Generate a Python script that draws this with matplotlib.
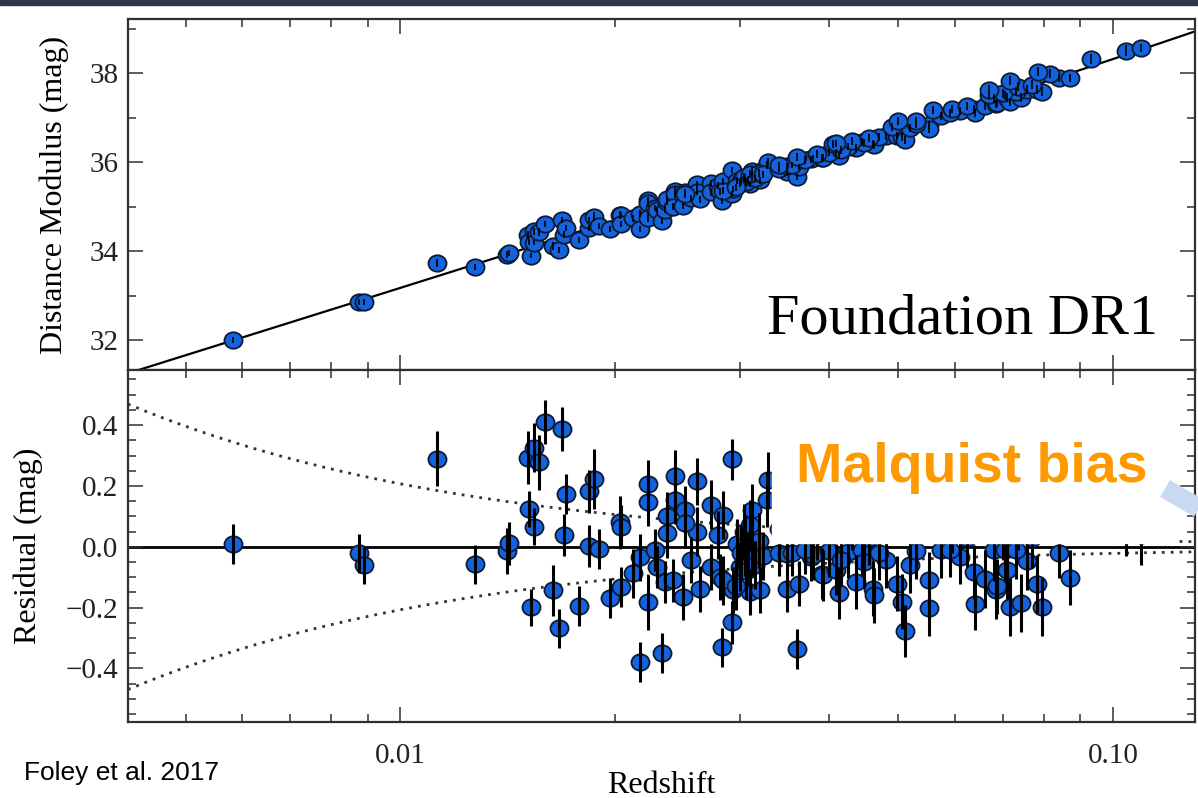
import numpy as np
import matplotlib.pyplot as plt
from matplotlib.patches import Rectangle
from matplotlib.lines import Line2D
from matplotlib.path import Path
from matplotlib.ticker import FixedLocator, NullFormatter, FuncFormatter

plt.rcParams['font.family'] = ['Liberation Serif', 'DejaVu Serif']
plt.rcParams['mathtext.fontset'] = 'stix'

# Foundation DR1 Hubble residuals: redshift, residual (mag), 1-sigma error (mag)
redshift = [
    0.00582, 0.00876, 0.00891, 0.01126, 0.01274, 0.01413, 0.01422, 0.01512,
    0.01515, 0.01527, 0.01541, 0.01543, 0.01566, 0.01597, 0.01639, 0.01671,
    0.01687, 0.01698, 0.01709, 0.01783, 0.01842, 0.01842, 0.01871, 0.01901,
    0.01971, 0.02035, 0.02040, 0.02042, 0.02121, 0.02171, 0.02171, 0.02229,
    0.02229, 0.02229, 0.02280, 0.02293, 0.02330, 0.02350, 0.02370, 0.02370,
    0.02430, 0.02430, 0.02417, 0.02496, 0.02513, 0.02555, 0.02612, 0.02612,
    0.02638, 0.02733, 0.02733, 0.02794, 0.02812, 0.02825, 0.02840, 0.02923,
    0.02923, 0.02932, 0.03115, 0.03095, 0.03196, 0.03268, 0.03280, 0.03486,
    0.03602, 0.03630, 0.02970, 0.03010, 0.03050, 0.03080, 0.03120, 0.03000,
    0.03060, 0.03150, 0.03190, 0.03040, 0.03100, 0.03230, 0.03400, 0.03490,
    0.03544, 0.02840, 0.02960, 0.02513, 0.03770, 0.03794, 0.03911, 0.03924,
    0.04082, 0.04123, 0.04357, 0.04600, 0.04615, 0.04799, 0.04970, 0.05051,
    0.05100, 0.05195, 0.05512, 0.05512, 0.05733, 0.06107, 0.06385, 0.06400,
    0.06616, 0.06815, 0.06855, 0.06880, 0.07061, 0.07107, 0.07176, 0.07435,
    0.07578, 0.07824, 0.07950, 0.08400, 0.08705, 0.03700, 0.04000, 0.04250,
    0.04450, 0.04700, 0.05300, 0.05900, 0.07300, 0.04150, 0.04480, 0.03400,
    0.03600, 0.03850, 0.04050, 0.04300, 0.04550, 0.04900, 0.05300, 0.05600,
    0.05950, 0.06250, 0.06700, 0.07000, 0.07350, 0.07700, 0.08150, 0.09310,
    0.10430, 0.10940, 0.07850, 0.06690, 0.07180, 0.04990, 0.04090,
]
residual = [
    0.010, -0.022, -0.061, 0.290, -0.058, -0.013, 0.011, 0.293,
    0.124, -0.199, 0.326, 0.066, 0.278, 0.409, -0.143, -0.268,
    0.386, 0.039, 0.174, -0.194, 0.003, 0.182, 0.223, -0.008,
    -0.168, 0.080, 0.066, -0.132, -0.087, -0.035, -0.378, 0.208,
    0.148, -0.182, -0.011, -0.066, -0.348, -0.116, 0.044, 0.100,
    0.232, 0.155, -0.110, -0.166, 0.121, -0.044, 0.215, 0.050,
    -0.138, 0.138, -0.066, 0.039, -0.100, -0.331, 0.105, 0.287,
    -0.248, -0.143, 0.121, -0.149, -0.143, 0.155, 0.220, -0.138,
    -0.336, -0.121, 0.010, -0.020, 0.005, -0.040, -0.010, -0.065,
    -0.080, -0.060, 0.020, 0.050, 0.070, -0.030, -0.020, -0.025,
    -0.022, -0.110, -0.128, 0.077, -0.033, -0.028, -0.088, -0.094,
    -0.075, -0.152, -0.116, -0.138, -0.160, -0.044, -0.121, -0.180,
    -0.276, -0.061, -0.108, -0.202, -0.011, -0.033, -0.083, -0.188,
    -0.105, -0.011, -0.143, -0.130, -0.011, -0.077, -0.199, -0.184,
    -0.046, -0.121, -0.199, -0.022, -0.101, -0.010, -0.015, -0.018,
    -0.012, -0.020, -0.015, -0.010, -0.012, -0.045, -0.050, 0.060,
    0.120, 0.040, 0.150, 0.080, 0.030, 0.110, 0.050, 0.180,
    0.070, 0.030, 0.120, 0.050, 0.090, 0.030, 0.140, 0.160,
    0.090, 0.040, 0.280, 0.240, 0.280, 0.200, 0.140,
]
residual_err = [
    0.066, 0.065, 0.060, 0.090, 0.064, 0.075, 0.070, 0.088,
    0.060, 0.060, 0.080, 0.060, 0.090, 0.072, 0.083, 0.064,
    0.072, 0.069, 0.066, 0.066, 0.069, 0.070, 0.100, 0.066,
    0.066, 0.088, 0.070, 0.066, 0.080, 0.077, 0.066, 0.077,
    0.080, 0.090, 0.070, 0.070, 0.066, 0.070, 0.080, 0.080,
    0.085, 0.080, 0.070, 0.075, 0.080, 0.075, 0.077, 0.080,
    0.075, 0.080, 0.075, 0.080, 0.075, 0.063, 0.080, 0.066,
    0.070, 0.075, 0.085, 0.075, 0.075, 0.090, 0.090, 0.075,
    0.065, 0.075, 0.080, 0.090, 0.100, 0.090, 0.085, 0.080,
    0.090, 0.080, 0.090, 0.090, 0.085, 0.080, 0.075, 0.075,
    0.075, 0.080, 0.080, 0.080, 0.080, 0.080, 0.085, 0.085,
    0.085, 0.085, 0.090, 0.090, 0.090, 0.090, 0.090, 0.090,
    0.085, 0.090, 0.090, 0.090, 0.090, 0.090, 0.090, 0.085,
    0.095, 0.100, 0.095, 0.090, 0.100, 0.095, 0.095, 0.095,
    0.095, 0.095, 0.095, 0.080, 0.090, 0.080, 0.085, 0.085,
    0.085, 0.090, 0.090, 0.090, 0.095, 0.085, 0.085, 0.085,
    0.090, 0.085, 0.090, 0.090, 0.090, 0.090, 0.090, 0.095,
    0.090, 0.095, 0.095, 0.095, 0.100, 0.100, 0.100, 0.110,
    0.120, 0.100, 0.100, 0.095, 0.100, 0.090, 0.085,
]

z = np.array(redshift)
res = np.array(residual)
err = np.array(residual_err)

# cosmology used for the reference Hubble line
H0 = 70.0
q0 = -0.55
c_kms = 299792.458
v_pec = 300.0   # peculiar velocity for the dotted envelope


def mu_model(zz):
    dl = c_kms * zz / H0 * (1 + 0.5 * (1 - q0) * zz)
    return 5 * np.log10(dl) + 25


mu = mu_model(z) + res

zlo, zhi = 0.00415, 0.1303
zline = np.geomspace(zlo, zhi, 400)
env = 5 * np.log10(1 + v_pec / (c_kms * zline))

minor_z = [0.005, 0.006, 0.007, 0.008, 0.009,
           0.02, 0.03, 0.04, 0.05, 0.06, 0.07, 0.08, 0.09]

# slightly wide oval symbol
circ = Path.unit_circle()
oval = Path(circ.vertices * [1.1, 1.0], circ.codes)

face = '#1462dc'
edge = '#0c1a33'
spine_c = '#303030'
mkw = dict(ls='none', marker=oval, ms=13, mfc=face, mec=edge, mew=1.3, zorder=2)

fig = plt.figure(figsize=(11.98, 7.98), dpi=100)
ax1 = fig.add_axes([0.1068, 0.5363, 0.8906, 0.4398])
ax2 = fig.add_axes([0.1068, 0.0952, 0.8906, 0.4411], sharex=ax1)

# top: distance modulus
ax1.plot(zline, mu_model(zline), color='black', lw=1.6, zorder=1)
ax1.plot(z, mu, **mkw)
ax1.errorbar(z, mu, yerr=err, fmt='none', ecolor='black', elinewidth=1.2,
             capsize=0, zorder=3)
ax1.set_ylim(31.33, 39.22)
ax1.yaxis.set_major_locator(FixedLocator([32, 34, 36, 38]))
ax1.yaxis.set_minor_locator(FixedLocator([31, 33, 35, 37, 39]))
ax1.set_ylabel('Distance Modulus (mag)', fontsize=23)
ax1.yaxis.set_label_coords(-0.055, 0.5)
ax1.text(0.965, 0.105, 'Foundation DR1', transform=ax1.transAxes,
         fontsize=42, ha='right', va='baseline')

# bottom: residuals
ax2.axhline(0, color='black', lw=2.0, zorder=1)
ax2.plot(zline, env, color='#333333', lw=2.0, ls=(0, (1, 2.2)), zorder=1)
ax2.plot(zline, -env, color='#333333', lw=2.0, ls=(0, (1, 2.2)), zorder=1)
ax2.plot(z, res, **mkw)
ax2.errorbar(z, res, yerr=err, fmt='none', ecolor='black', elinewidth=2.2,
             capsize=0, zorder=3)
ax2.set_ylim(-0.576, 0.581)
ax2.yaxis.set_major_locator(FixedLocator([-0.4, -0.2, 0.0, 0.2, 0.4]))
ax2.yaxis.set_minor_locator(FixedLocator(np.arange(-0.55, 0.56, 0.05)))
ax2.yaxis.set_major_formatter(FuncFormatter(lambda v, p: f'{v:.1f}'.replace('-', '\u2212')))
ax2.set_ylabel('Residual (mag)', fontsize=23)
ax2.yaxis.set_label_coords(-0.080, 0.5)
ax2.set_xlabel('Redshift', fontsize=23)
ax2.xaxis.set_label_coords(0.5, -0.14)

for ax in (ax1, ax2):
    ax.set_xscale('log')
    ax.set_xlim(zlo, zhi)
    ax.xaxis.set_major_locator(FixedLocator([0.01, 0.1]))
    ax.xaxis.set_minor_locator(FixedLocator(minor_z))
    ax.xaxis.set_minor_formatter(NullFormatter())
    ax.xaxis.set_major_formatter(FuncFormatter(lambda v, p: f'{v:.2f}'))
    ax.tick_params(which='both', direction='in', top=True, right=True,
                   width=1.1, color=spine_c, labelsize=21, labelcolor='#222222')
    ax.tick_params(which='major', length=11)
    ax.tick_params(which='minor', length=5.5)
    ax.tick_params(axis='y', pad=7)
    ax.tick_params(axis='x', pad=15)
    for s in ax.spines.values():
        s.set_linewidth(1.6)
        s.set_color(spine_c)
ax1.tick_params(labelbottom=False)

# slide overlay elements
fig.add_artist(Rectangle((0, 1 - 5 / 798), 1, 5 / 798, transform=fig.transFigure,
                         color='#2e3648', zorder=20))
fig.add_artist(Rectangle((772 / 1198, 1 - 543 / 798), (1176 - 772) / 1198, 118 / 798,
                         transform=fig.transFigure, color='white', zorder=10))
fig.add_artist(Line2D([1165 / 1198, 1240 / 1198], [1 - 488.5 / 798, 1 - 532 / 798],
                      transform=fig.transFigure, lw=14, color='#c8d9f0',
                      solid_capstyle='butt', zorder=11))
fig.text(796 / 1198, 1 - 482 / 798, 'Malquist bias', fontsize=40, fontweight='bold',
         color='#ff9900', family=['Liberation Sans', 'DejaVu Sans'],
         ha='left', va='baseline', zorder=12)
fig.text(24 / 1198, 1 - 780 / 798, 'Foley et al. 2017', fontsize=19,
         family=['Liberation Sans', 'DejaVu Sans'], ha='left', va='baseline')

fig.savefig('out.png', dpi=100)
